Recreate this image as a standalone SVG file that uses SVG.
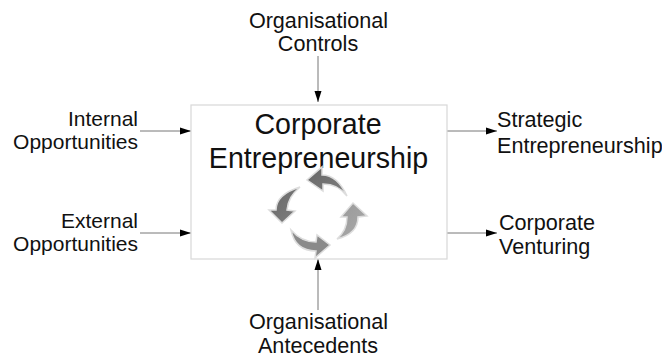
<svg xmlns="http://www.w3.org/2000/svg" width="662" height="357" viewBox="0 0 662 357">
<defs>
<style>
text{font-family:"Liberation Sans",Arial,sans-serif;fill:#111}
.l{font-size:21.6px}
.s{font-size:21px}
.t{font-size:28.600px;text-anchor:middle}
.e{text-anchor:end}
.m{text-anchor:middle}
.c{stroke:#777;stroke-width:1;fill:none;marker-end:url(#a)}
.ar{stroke:#ddd;stroke-width:1.5;stroke-linejoin:miter}
</style>
<marker id="a" markerUnits="userSpaceOnUse" markerWidth="12" markerHeight="8" refX="11" refY="4" orient="auto"><path d="M0 .5L11 4L0 7.500Z" fill="#000"/></marker>
<linearGradient id="g1" x1="0" y1="0" x2="1" y2="1"><stop offset="0" stop-color="#666"/><stop offset="1" stop-color="#808080"/></linearGradient>
<linearGradient id="g2" x1="0" y1="0" x2="1" y2="1"><stop offset="0" stop-color="#999"/><stop offset="1" stop-color="#aaa"/></linearGradient>
</defs>
<g id="connectors">
<path class="c" d="M318 56V102"/>
<path class="c" d="M318 310V259"/>
<path class="c" d="M140 131H191"/>
<path class="c" d="M140 233H191"/>
<path class="c" d="M447 131H497"/>
<path class="c" d="M447 233H497"/>
</g>
<g id="main">
<rect x="191" y="105" width="256" height="154" fill="#fff" stroke="#d8d8d8" stroke-width="1.200"/>
<text class="t" x="318" y="134">Corporate</text>
<text class="t" x="318.500" y="168">Entrepreneurship</text>
<path class="ar" fill="url(#g1)" d="M347 196C341 183 333 175 322 175L322 167L307 180L323 191L323 184C333 184 341 188 347 196Z"/>
<path class="ar" fill="url(#g1)" d="M300 187C287 191 276 198 276 210L269 210L282 223L295 211L287 210C288 200 292 194 300 187Z"/>
<path class="ar" fill="#8a8a8a" d="M291 230C294 245 304 251 316 251L315 258L330 245L317 235L316 242C305 242 298 238 291 230Z"/>
<path class="ar" fill="url(#g2)" d="M337 239C349 236 358 229 358 217L367 216L353 203L341 217L347 217C347 226 344 233 337 239Z"/>
</g>
<g id="controls"><text class="l m" x="318.500" y="28">Organisational</text><text class="l m" x="318" y="51">Controls</text></g>
<g id="antecedents"><text class="l m" x="318.500" y="329">Organisational</text><text class="l m" x="318" y="353">Antecedents</text></g>
<g id="internal"><text class="s e" x="138" y="126">Internal</text><text class="s e" x="138" y="149">Opportunities</text></g>
<g id="external"><text class="s e" x="138" y="228">External</text><text class="s e" x="138" y="251">Opportunities</text></g>
<g id="strategic"><text class="l" x="497" y="127">Strategic</text><text class="l" x="497" y="153">Entrepreneurship</text></g>
<g id="venturing"><text class="l" x="499" y="230">Corporate</text><text class="l" x="499" y="254">Venturing</text></g>
</svg>
